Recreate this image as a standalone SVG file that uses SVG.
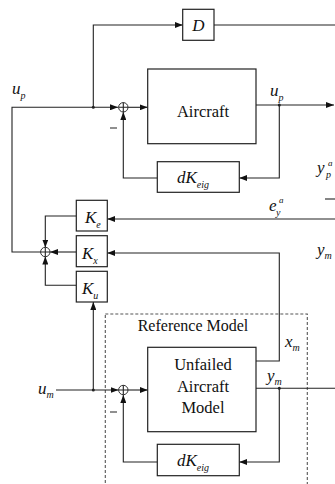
<svg xmlns="http://www.w3.org/2000/svg" width="335" height="484" viewBox="0 0 335 484">
<style>
.box{fill:#fff;stroke:#222;stroke-width:1.2}
.ln{fill:none;stroke:#222;stroke-width:1.1}
.sum{fill:#fff;stroke:#333;stroke-width:1}
.t{font-family:"Liberation Serif",serif;fill:#111}
.m{font-family:"Liberation Serif",serif;font-style:italic;fill:#111}
.dash{fill:none;stroke:#555;stroke-width:1.1;stroke-dasharray:3,2}
</style>
<defs>
<marker id="ar" viewBox="0 0 8 6" refX="8" refY="3" markerWidth="8" markerHeight="6" markerUnits="userSpaceOnUse" orient="auto">
<path d="M0,0L8,3L0,6z" fill="#111"/>
</marker>
</defs>
<rect class="dash" x="105.3" y="314" width="202" height="180"/>
<text class="t" x="193" y="331" font-size="16" text-anchor="middle">Reference Model</text>
<g id="connectors">
<path class="ln" d="M41,252H12V107.3H118" marker-end="url(#ar)"/>
<path class="ln" d="M93.3,107.3V25H182.7" marker-end="url(#ar)"/>
<path class="ln" d="M214,25H335"/>
<path class="ln" d="M128,107.3H147.7" marker-end="url(#ar)"/>
<path class="ln" d="M256,105H334" marker-end="url(#ar)"/>
<path class="ln" d="M279.3,105V178H239.3" marker-end="url(#ar)"/>
<path class="ln" d="M157.3,178H123.3V112" marker-end="url(#ar)"/>
<path class="ln" d="M335,219H107.3" marker-end="url(#ar)"/>
<path class="ln" d="M76.3,216H45.3V247.5" marker-end="url(#ar)"/>
<path class="ln" d="M256,361H279.3V253H107.3" marker-end="url(#ar)"/>
<path class="ln" d="M76.3,252H50" marker-end="url(#ar)"/>
<path class="ln" d="M76.3,285.3H45.3V256.5" marker-end="url(#ar)"/>
<path class="ln" d="M56,390H118.5" marker-end="url(#ar)"/>
<path class="ln" d="M93.3,390V302" marker-end="url(#ar)"/>
<path class="ln" d="M128,390H147.7" marker-end="url(#ar)"/>
<path class="ln" d="M256,388.3H335"/>
<path class="ln" d="M279.3,388.3V462H239.3" marker-end="url(#ar)"/>
<path class="ln" d="M157.3,462H123.3V395" marker-end="url(#ar)"/>
<path class="ln" d="M325,199H335"/>
<circle cx="93.3" cy="107.3" r="1.5" fill="#222"/>
<circle cx="279.3" cy="105" r="1.5" fill="#222"/>
<circle cx="93.3" cy="390" r="1.5" fill="#222"/>
<circle cx="279.3" cy="388.3" r="1.5" fill="#222"/>
</g>
<g id="sum1"><circle class="sum" cx="123.3" cy="107.3" r="4.7"/><path class="ln" d="M118.6,107.3H128M123.3,102.6V112" stroke-width="0.8"/></g>
<g id="sum2"><circle class="sum" cx="45.3" cy="252" r="4.7"/><path class="ln" d="M40.6,252H50M45.3,247.3V256.7" stroke-width="0.8"/></g>
<g id="sum3"><circle class="sum" cx="123.3" cy="390" r="4.7"/><path class="ln" d="M118.6,390H128M123.3,385.3V394.7" stroke-width="0.8"/></g>
<g id="D"><rect class="box" x="182.7" y="9.3" width="31.3" height="31"/><text class="m" x="198.3" y="31" font-size="17" text-anchor="middle">D</text></g>
<g id="aircraft"><rect class="box" x="147.7" y="69" width="108.3" height="74.7"/><text class="t" x="203" y="117" font-size="16.5" text-anchor="middle">Aircraft</text></g>
<g id="dKeig1"><rect class="box" x="157.3" y="161.7" width="82" height="30.6"/><text class="m" x="177" y="183" font-size="17">dK<tspan font-size="10" dy="5">eig</tspan></text></g>
<g id="Ke"><rect class="box" x="76.3" y="200.3" width="31" height="30.7"/><text class="m" x="85" y="223" font-size="17">K<tspan font-size="10" dy="5">e</tspan></text></g>
<g id="Kx"><rect class="box" x="76.3" y="235.7" width="31" height="31"/><text class="m" x="82" y="259" font-size="17">K<tspan font-size="10" dy="5">x</tspan></text></g>
<g id="Ku"><rect class="box" x="76.3" y="271.3" width="31" height="30.7"/><text class="m" x="82" y="294" font-size="17">K<tspan font-size="10" dy="5">u</tspan></text></g>
<g id="unfailed"><rect class="box" x="147.7" y="347.3" width="108.3" height="84.4"/><text class="t" font-size="16.5" text-anchor="middle"><tspan x="203" y="370">Unfailed</tspan><tspan x="203" y="392">Aircraft</tspan><tspan x="203" y="413">Model</tspan></text></g>
<g id="dKeig2"><rect class="box" x="157.3" y="444.3" width="82" height="31.4"/><text class="m" x="177" y="466" font-size="17">dK<tspan font-size="10" dy="5">eig</tspan></text></g>
<g id="labels">
<text class="m" x="12" y="94" font-size="17">u<tspan font-size="10" dy="5">p</tspan></text>
<text class="m" x="270" y="96" font-size="17">u<tspan font-size="10" dy="5">p</tspan></text>
<text class="m" x="317" y="173" font-size="17">y</text>
<text class="m" x="326" y="178" font-size="10">p</text>
<text class="m" x="328" y="166" font-size="9">a</text>
<text class="m" x="269" y="211" font-size="17">e</text>
<text class="m" x="276" y="216" font-size="10">y</text>
<text class="m" x="279" y="203" font-size="9">a</text>
<text class="m" x="317" y="255" font-size="17">y<tspan font-size="10" dy="4">m</tspan></text>
<text class="m" x="285" y="347" font-size="17">x<tspan font-size="10" dy="4">m</tspan></text>
<text class="m" x="267" y="381" font-size="17">y<tspan font-size="10" dy="4">m</tspan></text>
<text class="m" x="38" y="394" font-size="17">u<tspan font-size="10" dy="4">m</tspan></text>
<path class="ln" d="M110,128H117M110,412H117"/>
</g>
</svg>
